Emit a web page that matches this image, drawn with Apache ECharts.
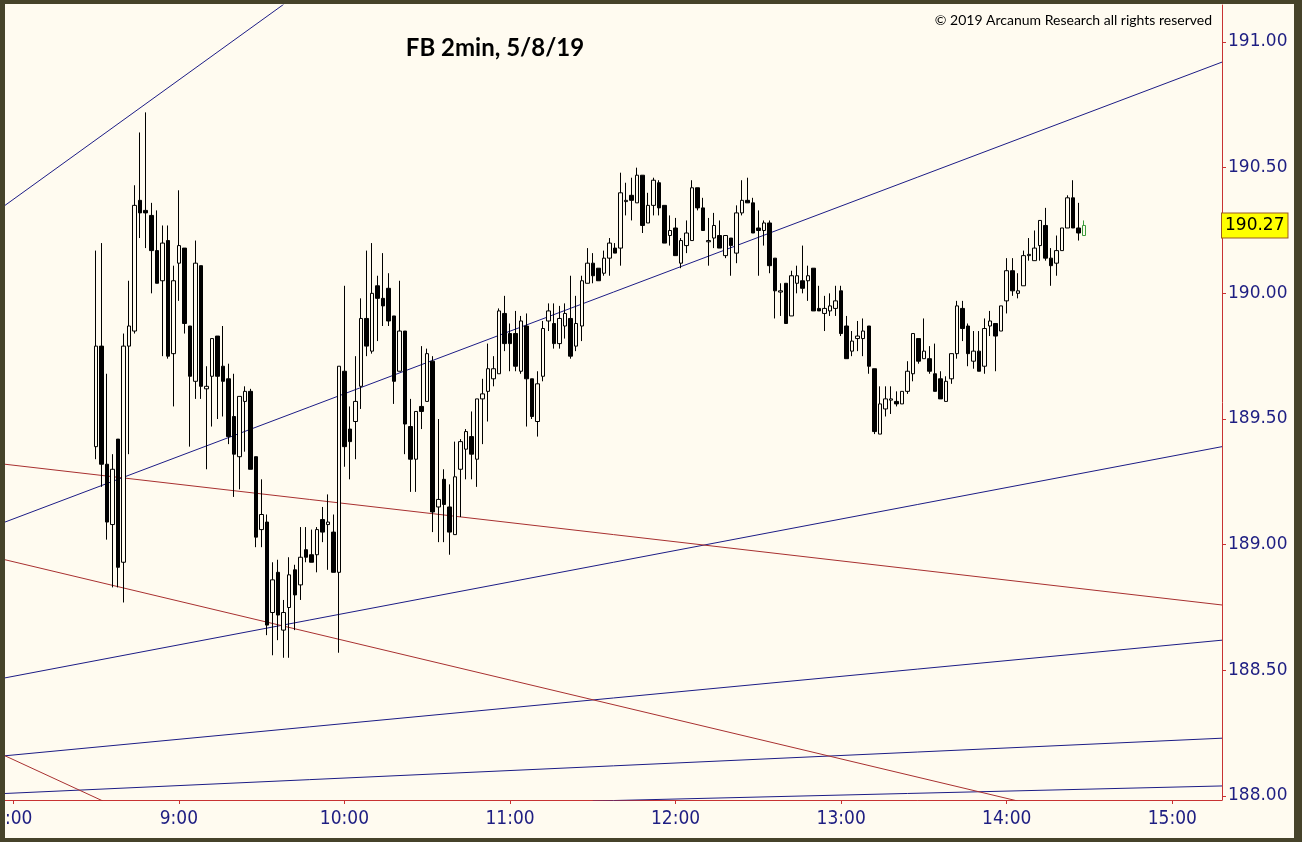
<!DOCTYPE html>
<html><head><meta charset="utf-8">
<script src="https://cdn.jsdelivr.net/npm/echarts@6/dist/echarts.min.js"></script>
<style>html,body{margin:0;padding:0;background:#FFFBF0}#c{width:1302px;height:842px}</style>
</head><body><div id="c"></div>
<script>
// ---- axis ticks ----
const hourTicks = [480, 540, 600, 660, 720, 780, 840, 900];          // minutes since midnight
const hourLabels = ['8:00', '9:00', '10:00', '11:00', '12:00', '13:00', '14:00', '15:00'];
const priceTicks = [188, 188.5, 189, 189.5, 190, 190.5, 191];

// ---- bars: 2-minute candles starting 8:30 ----
const firstBarMinute = 510;
const barMinutes = 2;
const opens = [
189.39,189.79,189.32,189.08,189.42,188.93,189.79,189.85,190.37,190.33,
190.31,190.17,190.05,190.21,189.76,190.12,190.18,189.87,189.65,190.11,
189.62,189.67,189.83,189.71,189.66,189.51,189.35,189.57,189.61,189.35,
189.06,189.09,188.73,188.89,188.66,188.75,188.90,188.84,188.98,188.96,
188.96,189.10,189.08,189.05,188.89,189.69,189.46,189.49,189.63,189.90,
189.77,190.03,189.98,190.02,189.91,189.69,189.85,189.47,189.34,189.55,
189.57,189.73,189.15,189.26,189.15,189.04,189.30,189.38,189.43,189.34,
189.58,189.61,189.66,189.68,189.92,189.84,189.84,189.69,189.87,189.66,
189.49,189.67,189.89,189.88,189.80,189.87,189.90,189.79,189.87,190.04,
190.12,190.10,190.08,190.14,190.18,190.18,190.365,190.39,190.36,190.47,
190.28,190.35,190.44,190.35,190.23,190.26,190.12,190.19,190.21,190.42,
190.34,190.205,190.22,190.23,190.15,190.22,190.16,190.32,190.37,190.36,
190.26,190.25,190.28,190.14,190.005,190.04,189.91,190.04,190.05,190.05,
190.10,189.94,189.92,189.93,189.94,190.01,189.87,189.77,189.82,189.82,
189.87,189.70,189.44,189.54,189.575,189.57,189.56,189.61,189.68,189.82,
189.74,189.74,189.68,189.66,189.57,189.66,189.76,189.94,189.87,189.73,
189.77,189.71,189.87,189.88,189.85,189.97,190.09,190.00,190.03,190.15,
190.13,190.19,190.27,190.14,190.12,190.17,190.26,190.38,190.26,190.23
];
const highs = [
190.17,190.20,189.68,189.36,189.42,189.84,190.05,190.43,190.64,190.72,
190.36,190.33,190.27,190.27,190.11,190.41,190.18,189.87,190.21,190.11,
189.71,189.82,189.83,189.87,189.72,189.68,189.59,189.63,189.62,189.35,
189.26,189.12,188.93,188.94,188.78,188.95,188.92,189.07,189.07,189.06,
189.07,189.15,189.20,189.12,189.71,190.03,189.55,189.75,189.98,190.17,
190.20,190.07,190.16,190.08,189.91,190.05,189.85,189.58,189.53,189.79,
189.78,189.75,189.50,189.30,189.24,189.41,189.42,189.46,189.53,189.58,
189.66,189.80,189.75,189.94,189.99,189.88,189.93,189.91,189.92,189.66,
189.69,189.89,189.96,189.96,189.95,189.96,190.07,189.99,190.07,190.18,
190.16,190.10,190.17,190.22,190.20,190.48,190.44,190.46,190.50,190.47,
190.40,190.46,190.45,190.35,190.31,190.30,190.22,190.29,190.45,190.42,
190.38,190.30,190.32,190.29,190.23,190.22,190.35,190.45,190.46,190.38,
190.33,190.29,190.29,190.14,190.04,190.04,190.09,190.11,190.19,190.11,
190.10,190.03,189.99,190.00,190.03,190.03,189.91,189.85,189.89,189.90,
189.87,189.70,189.63,189.63,189.63,189.61,189.61,189.73,189.84,189.82,
189.90,189.79,189.80,189.69,189.67,189.76,189.97,189.97,189.88,189.85,
189.85,189.90,189.93,189.88,189.95,190.14,190.14,190.08,190.17,190.22,
190.25,190.29,190.34,190.18,190.23,190.26,190.39,190.45,190.36,190.29
];
const lows = [
189.34,189.23,189.02,188.83,188.83,188.77,189.36,189.84,190.22,190.18,
190.00,190.04,189.75,189.74,189.55,189.97,189.84,189.39,189.58,189.58,
189.30,189.47,189.50,189.51,189.40,189.19,189.22,189.37,189.30,188.99,
188.99,188.64,188.56,188.62,188.55,188.55,188.66,188.78,188.93,188.93,
188.89,189.01,188.90,188.89,188.57,189.31,189.26,189.34,189.54,189.75,
189.76,189.81,189.87,189.87,189.56,189.69,189.36,189.21,189.21,189.46,
189.57,189.05,189.01,189.01,188.96,189.04,189.11,189.26,189.26,189.23,
189.40,189.49,189.63,189.68,189.77,189.69,189.69,189.68,189.47,189.50,
189.43,189.65,189.85,189.78,189.78,189.82,189.74,189.77,189.81,190.04,
190.04,190.05,190.07,190.07,190.16,190.11,190.31,190.29,190.36,190.24,
190.28,190.31,190.31,190.20,190.19,190.15,190.10,190.16,190.21,190.33,
190.25,190.11,190.18,190.18,190.14,190.07,190.12,190.31,190.36,190.24,
190.07,190.19,190.08,189.90,189.91,189.88,189.91,190.00,190.00,189.97,
189.93,189.93,189.85,189.91,189.91,189.83,189.74,189.75,189.77,189.75,
189.68,189.44,189.44,189.51,189.52,189.55,189.56,189.60,189.65,189.72,
189.74,189.68,189.61,189.58,189.57,189.64,189.74,189.81,189.71,189.70,
189.69,189.68,189.83,189.69,189.85,189.92,189.99,189.98,190.03,190.13,
190.13,190.13,190.13,190.03,190.07,190.17,190.26,190.26,190.21,190.23
];
const closes = [
189.79,189.32,189.09,189.30,188.91,189.79,189.87,190.35,190.32,190.32,
190.17,190.04,190.20,189.75,190.05,190.19,189.88,189.67,190.12,189.63,
189.63,189.82,189.67,189.65,189.43,189.36,189.59,189.61,189.30,189.03,
189.12,188.68,188.86,188.72,188.73,188.88,188.80,188.95,188.95,188.93,
189.06,189.05,189.09,188.89,189.71,189.39,189.41,189.57,189.90,189.79,
190.00,189.98,189.95,189.89,189.65,189.85,189.48,189.34,189.53,189.53,
189.76,189.13,189.18,189.16,189.05,189.27,189.41,189.45,189.36,189.58,
189.60,189.70,189.70,189.93,189.80,189.80,189.71,189.89,189.66,189.51,
189.64,189.86,189.93,189.80,189.90,189.92,189.75,189.88,190.05,190.12,
190.07,190.05,190.14,190.20,190.16,190.40,190.37,190.37,190.47,190.27,
190.35,190.45,190.34,190.20,190.25,190.15,190.21,190.24,190.42,190.34,
190.25,190.21,190.27,190.18,190.23,190.19,190.32,190.37,190.36,190.24,
190.25,190.28,190.11,190.01,190.01,189.88,190.07,190.07,190.02,190.07,
189.93,189.93,189.94,189.95,189.97,189.84,189.74,189.81,189.83,189.85,
189.71,189.45,189.56,189.58,189.58,189.56,189.61,189.69,189.84,189.73,
189.77,189.69,189.61,189.58,189.65,189.76,189.95,189.86,189.76,189.77,
189.69,189.86,189.89,189.83,189.95,190.09,190.01,190.01,190.15,190.155,
190.18,190.29,190.14,190.11,190.17,190.26,190.38,190.26,190.24,190.27
];

// ---- trendlines: [[minute, price], [minute, price]] ----
const blueTrendlines = [
  [[477, 190.35], [578, 191.15]],
  [[477, 189.09], [918, 190.92]],
  [[477, 188.47], [918, 189.39]],
  [[477, 188.16], [918, 188.62]],
  [[477, 188.01], [918, 188.23]],
  [[690, 187.98], [918, 188.04]]
];
const redTrendlines = [
  [[477, 189.32], [918, 188.76]],
  [[477, 188.94], [844, 187.98]],
  [[477, 188.16], [512.5, 187.98]]
];

const bg = '#FFFBF0';
const navy = '#1E1E82';
const frameRed = '#C83232';
const olive = '#46432A';

const lastIdx = closes.length - 1;
const candleData = opens.map((o, i) => {
  const item = { value: [firstBarMinute + i * barMinutes, o, closes[i], lows[i], highs[i]] };
  if (i === lastIdx) {
    item.itemStyle = { color: bg, color0: bg, borderColor: '#3C9A3C', borderColor0: '#3C9A3C', borderColorDoji: '#3C9A3C' };
  }
  return item;
});

const lineSeries = [];
blueTrendlines.forEach(d => lineSeries.push({
  type: 'line', data: d, showSymbol: false, silent: true, clip: true,
  lineStyle: { color: '#1C1C86', width: 1 }, z: 1
}));
redTrendlines.forEach(d => lineSeries.push({
  type: 'line', data: d, showSymbol: false, silent: true, clip: true,
  lineStyle: { color: '#A83030', width: 1 }, z: 1
}));

const chart = echarts.init(document.getElementById('c'), null, { renderer: 'canvas' });
chart.setOption({
  animation: false,
  backgroundColor: bg,
  grid: { left: 5, right: 80, top: 5, bottom: 42, containLabel: false, outerBoundsMode: 'none' },
  xAxis: {
    type: 'value', min: 477, max: 918,
    axisLine: { show: true, onZero: false, lineStyle: { color: frameRed, width: 1 } },
    axisTick: { show: true, customValues: hourTicks, length: 4, lineStyle: { color: frameRed } },
    axisLabel: {
      customValues: hourTicks, margin: 10, hideOverlap: false,
      formatter: v => hourLabels[hourTicks.indexOf(v)] || '',
      color: navy, fontSize: 19,
      fontFamily: "'Liberation Sans Narrow', 'DejaVu Sans Condensed', sans-serif"
    },
    splitLine: { show: false }
  },
  yAxis: {
    type: 'value', position: 'right', min: 187.9841, max: 191.1472,
    axisLine: { show: true, onZero: false, lineStyle: { color: frameRed, width: 1 } },
    axisTick: { show: true, customValues: priceTicks, length: 4, lineStyle: { color: frameRed } },
    axisLabel: {
      customValues: priceTicks, margin: 6,
      formatter: v => v.toFixed(2),
      color: navy, fontSize: 17, fontFamily: "'DejaVu Sans', Verdana, sans-serif"
    },
    splitLine: { show: false }
  },
  series: lineSeries.concat([{
    type: 'candlestick',
    data: candleData,
    encode: { x: 0, y: [1, 2, 3, 4] },
    barWidth: 4,
    z: 3,
    itemStyle: {
      color: bg, color0: '#000000',
      borderColor: '#000000', borderColor0: '#000000', borderColorDoji: '#000000',
      borderWidth: 1
    },
    markLine: {
      silent: true, symbol: ['none', 'none'], animation: false,
      lineStyle: { color: 'rgba(0,0,0,0)', width: 0, type: 'solid' },
      label: {
        show: true, position: 'end', distance: 0, opacity: 1,
        formatter: closes[lastIdx].toFixed(2),
        backgroundColor: '#FFFF00', borderColor: '#9A5A20', borderWidth: 1,
        padding: [4, 3, 3, 3], color: '#000000', fontSize: 17,
        fontFamily: "'DejaVu Sans', Verdana, sans-serif"
      },
      data: [{ yAxis: closes[lastIdx] }]
    }
  }]),
  graphic: [
    { type: 'text', x: 495, y: 48, z: 50,
      style: { text: 'FB 2min, 5/8/19', align: 'center', verticalAlign: 'middle',
        fill: '#000', font: "bold 24px Lato, 'Open Sans', sans-serif" } },
    { type: 'text', x: 1212, y: 20, z: 50,
      style: { text: '© 2019 Arcanum Research all rights reserved', align: 'right', verticalAlign: 'middle',
        fill: '#000', font: "14px Lato, 'Open Sans', sans-serif" } },
    { type: 'rect', z: 100, shape: { x: 0, y: 0, width: 1302, height: 4 }, style: { fill: olive } },
    { type: 'rect', z: 100, shape: { x: 0, y: 838, width: 1302, height: 4 }, style: { fill: olive } },
    { type: 'rect', z: 100, shape: { x: 0, y: 0, width: 5, height: 842 }, style: { fill: olive } },
    { type: 'rect', z: 100, shape: { x: 1294, y: 0, width: 8, height: 842 }, style: { fill: olive } }
  ]
});
</script>
</body></html>
